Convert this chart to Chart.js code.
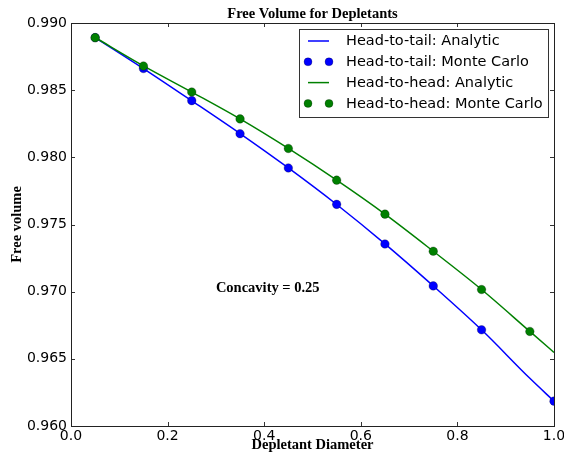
<!DOCTYPE html>
<html lang="en">
<head>
    <meta charset="UTF-8">
    <title>Free Volume for Depletants</title>
    <script src="https://cdn.jsdelivr.net/npm/chart.js"></script>
    <style>
        html, body { margin: 0; padding: 0; background: #fff; }
        #wrap { width: 564px; height: 463px; }
    </style>
</head>
<body>
    <div id="wrap"><canvas id="volumeChart" width="564" height="463"></canvas></div>

    <script>
        // depletant diameters
        const mcDiameters = [0.05, 0.15, 0.25, 0.35, 0.45, 0.55, 0.65, 0.75, 0.85];
        const tailMcDiameters = mcDiameters.concat([1.0]);
        const headMcDiameters = mcDiameters.concat([0.95]);
        const analyticDiameters = [0.05, 0.15, 0.25, 0.35, 0.45, 0.55, 0.65, 0.75, 0.85, 0.95, 1.0];

        // free volume values
        const tailAnalytic = [0.98892, 0.98661, 0.98421, 0.98177, 0.97921, 0.97649, 0.97356, 0.97043, 0.96716, 0.96355, 0.96185];
        const tailMonteCarlo = [0.98891, 0.98661, 0.98422, 0.98176, 0.97921, 0.97650, 0.97355, 0.97043, 0.96716, 0.96185];
        const headAnalytic = [0.98892, 0.98681, 0.98486, 0.98286, 0.98066, 0.97830, 0.97577, 0.97301, 0.97016, 0.96704, 0.96548];
        const headMonteCarlo = [0.98891, 0.98680, 0.98486, 0.98286, 0.98066, 0.97830, 0.97577, 0.97301, 0.97016, 0.96704];

        // axis ticks
        const xTickValues = [0.0, 0.2, 0.4, 0.6, 0.8, 1.0];
        const xTickLabels = ['0.0', '0.2', '0.4', '0.6', '0.8', '1.0'];
        const yTickValues = [0.960, 0.965, 0.970, 0.975, 0.980, 0.985, 0.990];
        const yTickLabels = ['0.960', '0.965', '0.970', '0.975', '0.980', '0.985', '0.990'];

        const titleText = 'Free Volume for Depletants';
        const xTitle = 'Depletant Diameter';
        const yTitle = 'Free volume';
        const noteText = 'Concavity = 0.25';
        const notePos = [0.3, 0.970];

        const BLUE = '#0000ff';
        const GREEN = '#008000';
        const SANS = '"DejaVu Sans", sans-serif';
        const SERIF = '"Liberation Serif", "Times New Roman", serif';

        const pts = (xs, ys) => xs.map((x, i) => ({ x: x, y: ys[i] }));

        const legendItems = [
            { label: 'Head-to-tail: Analytic', color: BLUE, kind: 'line' },
            { label: 'Head-to-tail: Monte Carlo', color: BLUE, kind: 'dots' },
            { label: 'Head-to-head: Analytic', color: GREEN, kind: 'line' },
            { label: 'Head-to-head: Monte Carlo', color: GREEN, kind: 'dots' }
        ];

        // frame, inward ticks, titles, note and legend
        const decorations = {
            id: 'decorations',
            afterDatasetsDraw(chart) {
                const c = chart.ctx;
                const a = chart.chartArea;
                const xs = chart.scales.x, ys = chart.scales.y;
                c.save();

                // inward tick marks on all four sides
                c.strokeStyle = '#333';
                c.lineWidth = 1;
                c.beginPath();
                xTickValues.forEach(v => {
                    const px = Math.round(xs.getPixelForValue(v)) + 0.5;
                    c.moveTo(px, a.bottom); c.lineTo(px, a.bottom - 4);
                    c.moveTo(px, a.top); c.lineTo(px, a.top + 4);
                });
                yTickValues.forEach(v => {
                    const py = Math.round(ys.getPixelForValue(v)) + 0.5;
                    c.moveTo(a.left, py); c.lineTo(a.left + 4, py);
                    c.moveTo(a.right, py); c.lineTo(a.right - 4, py);
                });
                c.stroke();

                // frame
                c.strokeStyle = '#222';
                c.strokeRect(Math.round(a.left) + 0.5, Math.round(a.top) + 0.5,
                    Math.round(a.right - a.left), Math.round(a.bottom - a.top));

                const cx = (a.left + a.right) / 2;
                const cy = (a.top + a.bottom) / 2;
                c.fillStyle = '#000';
                c.textAlign = 'center';
                c.textBaseline = 'alphabetic';
                c.font = 'bold 14.5px ' + SERIF;
                c.fillText(titleText, cx, 18);
                c.fillText(xTitle, cx, 449);
                c.save();
                c.translate(20.5, cy);
                c.rotate(-Math.PI / 2);
                c.fillText(yTitle, 0, 0);
                c.restore();

                // annotation
                c.textAlign = 'left';
                c.fillText(noteText, xs.getPixelForValue(notePos[0]), ys.getPixelForValue(notePos[1]));

                // legend
                const lx = 299.5, ly = 29.5, lw = 249, lh = 88;
                c.fillStyle = '#fff';
                c.fillRect(lx, ly, lw, lh);
                c.strokeStyle = '#333';
                c.lineWidth = 1;
                c.strokeRect(lx, ly, lw, lh);
                c.font = '14.5px ' + SANS;
                c.textBaseline = 'middle';
                legendItems.forEach((item, i) => {
                    const ry = 41 + i * 20.8;
                    if (item.kind === 'line') {
                        c.strokeStyle = item.color;
                        c.lineWidth = 1.5;
                        c.beginPath();
                        c.moveTo(308, ry); c.lineTo(329, ry);
                        c.stroke();
                    } else {
                        [308, 329].forEach(dx => {
                            c.beginPath();
                            c.arc(dx, ry, 4, 0, Math.PI * 2);
                            c.fillStyle = item.color;
                            c.fill();
                            c.lineWidth = 0.5;
                            c.strokeStyle = 'rgba(0,0,0,0.5)';
                            c.stroke();
                        });
                    }
                    c.fillStyle = '#000';
                    c.fillText(item.label, 346, ry + 0.5);
                });
                c.restore();
            }
        };

        const lineSet = (label, xsArr, ysArr, color, order) => ({
            type: 'line',
            label: label,
            data: pts(xsArr, ysArr),
            borderColor: color,
            borderWidth: 1.5,
            pointRadius: 0,
            fill: false,
            cubicInterpolationMode: 'monotone',
            order: order
        });

        const dotSet = (label, xsArr, ysArr, color, order) => ({
            type: 'scatter',
            label: label,
            data: pts(xsArr, ysArr),
            backgroundColor: color,
            borderColor: 'rgba(0,0,0,0.5)',
            borderWidth: 0.5,
            pointRadius: 4.3,
            showLine: false,
            order: order
        });

        const ctx = document.getElementById('volumeChart').getContext('2d');
        new Chart(ctx, {
            type: 'scatter',
            data: {
                datasets: [
                    lineSet('Head-to-tail: Analytic', analyticDiameters, tailAnalytic, BLUE, 4),
                    dotSet('Head-to-tail: Monte Carlo', tailMcDiameters, tailMonteCarlo, BLUE, 3),
                    lineSet('Head-to-head: Analytic', analyticDiameters, headAnalytic, GREEN, 2),
                    dotSet('Head-to-head: Monte Carlo', headMcDiameters, headMonteCarlo, GREEN, 1)
                ]
            },
            options: {
                responsive: false,
                animation: false,
                layout: { padding: { top: 23, right: 0, bottom: 0, left: 0 } },
                plugins: {
                    legend: { display: false },
                    tooltip: { enabled: false },
                    title: { display: false }
                },
                scales: {
                    x: {
                        type: 'linear',
                        min: 0, max: 1,
                        grid: { display: false, drawTicks: false },
                        border: { display: false },
                        afterBuildTicks: s => { s.ticks = xTickValues.map(v => ({ value: v })); },
                        afterFit: s => { s.height = 37; s.paddingLeft = 0; s.paddingRight = 10; },
                        ticks: {
                            padding: 2,
                            maxRotation: 0,
                            autoSkip: false,
                            color: '#000',
                            font: { family: SANS, size: 14 },
                            callback: (v, i) => xTickLabels[i]
                        }
                    },
                    y: {
                        type: 'linear',
                        min: 0.960, max: 0.990,
                        grid: { display: false, drawTicks: false },
                        border: { display: false },
                        afterBuildTicks: s => { s.ticks = yTickValues.map(v => ({ value: v })); },
                        afterFit: s => { s.width = 71; },
                        ticks: {
                            padding: 4,
                            autoSkip: false,
                            color: '#000',
                            font: { family: SANS, size: 14 },
                            callback: (v, i) => yTickLabels[i]
                        }
                    }
                }
            },
            plugins: [decorations]
        });
    </script>
</body>
</html>
